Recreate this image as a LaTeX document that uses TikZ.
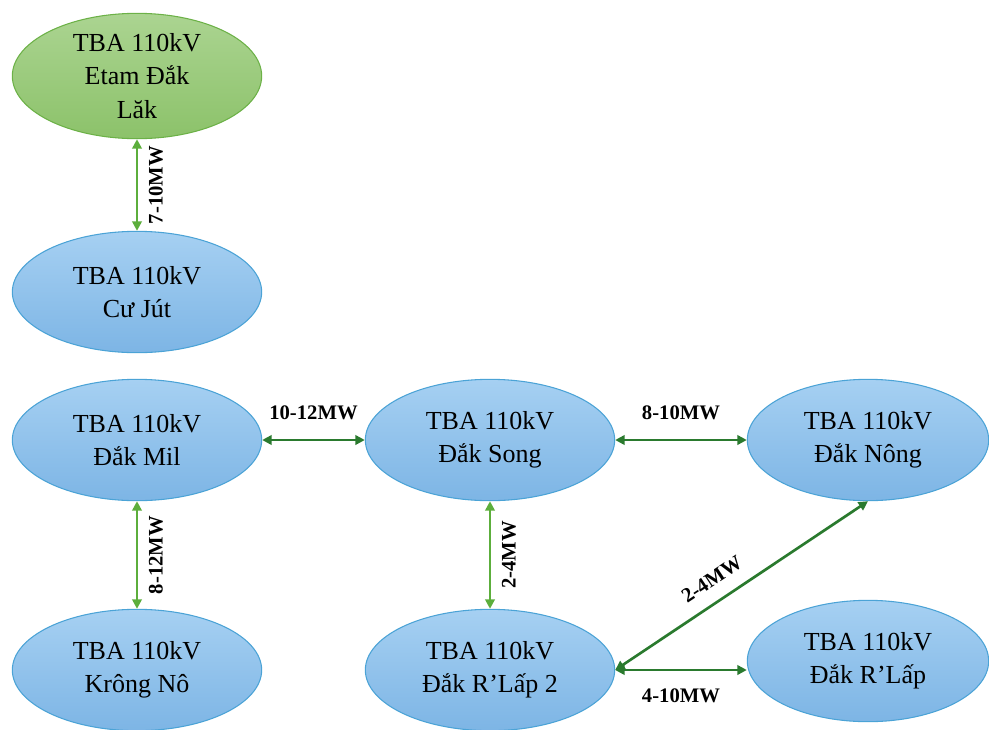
\documentclass[tikz,border=0pt]{standalone}
\usepackage{fontspec}
\setmainfont{Liberation Serif}
\usetikzlibrary{shapes.geometric,arrows.meta}
\definecolor{bluetop}{HTML}{A6D0F2}
\definecolor{bluebot}{HTML}{7DB5E5}
\definecolor{blueedge}{HTML}{4BA3D6}
\definecolor{greentop}{HTML}{ABD491}
\definecolor{greenbot}{HTML}{8CC26A}
\definecolor{greenedge}{HTML}{6CB147}
\definecolor{lightgreen}{HTML}{5CAE3C}
\definecolor{darkgreen}{HTML}{2A7A2E}

\begin{document}
\begin{tikzpicture}[x=0.75pt,y=-0.75pt,
      station/.style={ellipse,draw=blueedge,line width=0.8pt,
        top color=bluetop,bottom color=bluebot,
        minimum width=187pt,minimum height=91pt,inner sep=0pt,
        align=center,font=\fontsize{19.5}{25}\selectfont},
      greenstation/.style={station,draw=greenedge,
        top color=greentop,bottom color=greenbot,minimum height=94pt},
      link/.style={line width=2pt,
        {Triangle[length=7pt,width=7pt]}-{Triangle[length=7pt,width=7pt]}},
      lightlink/.style={link,draw=lightgreen},
      darklink/.style={link,draw=darkgreen},
      mw/.style={font=\bfseries\fontsize{15.5}{16}\selectfont,inner sep=2pt}]
      \useasboundingbox (0,0) rectangle (989,729);
      % stations
      \node[greenstation] (etam) at (137,76) {TBA 110kV\\Etam Đắk\\Lăk};
      \node[station] (cujut) at (137,292) {TBA 110kV\\Cư Jút};
      \node[station] (mil) at (137,440) {TBA 110kV\\Đắk Mil};
      \node[station] (krongno) at (137,670) {TBA 110kV\\Krông Nô};
      \node[station] (song) at (490,440) {TBA 110kV\\Đắk Song};
      \node[station,minimum width=181pt] (nong) at (868,440) {TBA 110kV\\Đắk Nông};
      \node[station] (rlap2) at (490,670) {TBA 110kV\\Đắk R’Lấp 2};
      \node[station,minimum width=181pt] (rlap) at (868,661) {TBA 110kV\\Đắk R’Lấp};
      % links (vertical ones drawn upwards so the labels read bottom to top)
      \draw[lightlink] (cujut) -- (etam)
        node[mw,midway,sloped,below=6pt] {7-10MW};
      \draw[lightlink] (krongno) -- (mil)
        node[mw,midway,sloped,below=6pt] {8-12MW};
      \draw[lightlink] (rlap2) -- (song)
        node[mw,midway,sloped,below=6pt] {2-4MW};
      \draw[darklink] (mil) -- (song)
        node[mw,midway,above=12pt] {10-12MW};
      \draw[darklink] (song) -- (nong)
        node[mw,midway,above=12pt] {8-10MW};
      \draw[darklink] (rlap2.east) -- (nong.south)
        node[mw,pos=0.43,sloped,above=8pt] {2-4MW};
      \draw[darklink] (rlap2.east) -- (rlap2.east -| rlap.west)
        node[mw,midway,below=11pt] {4-10MW};
    \end{tikzpicture}
\end{document}
